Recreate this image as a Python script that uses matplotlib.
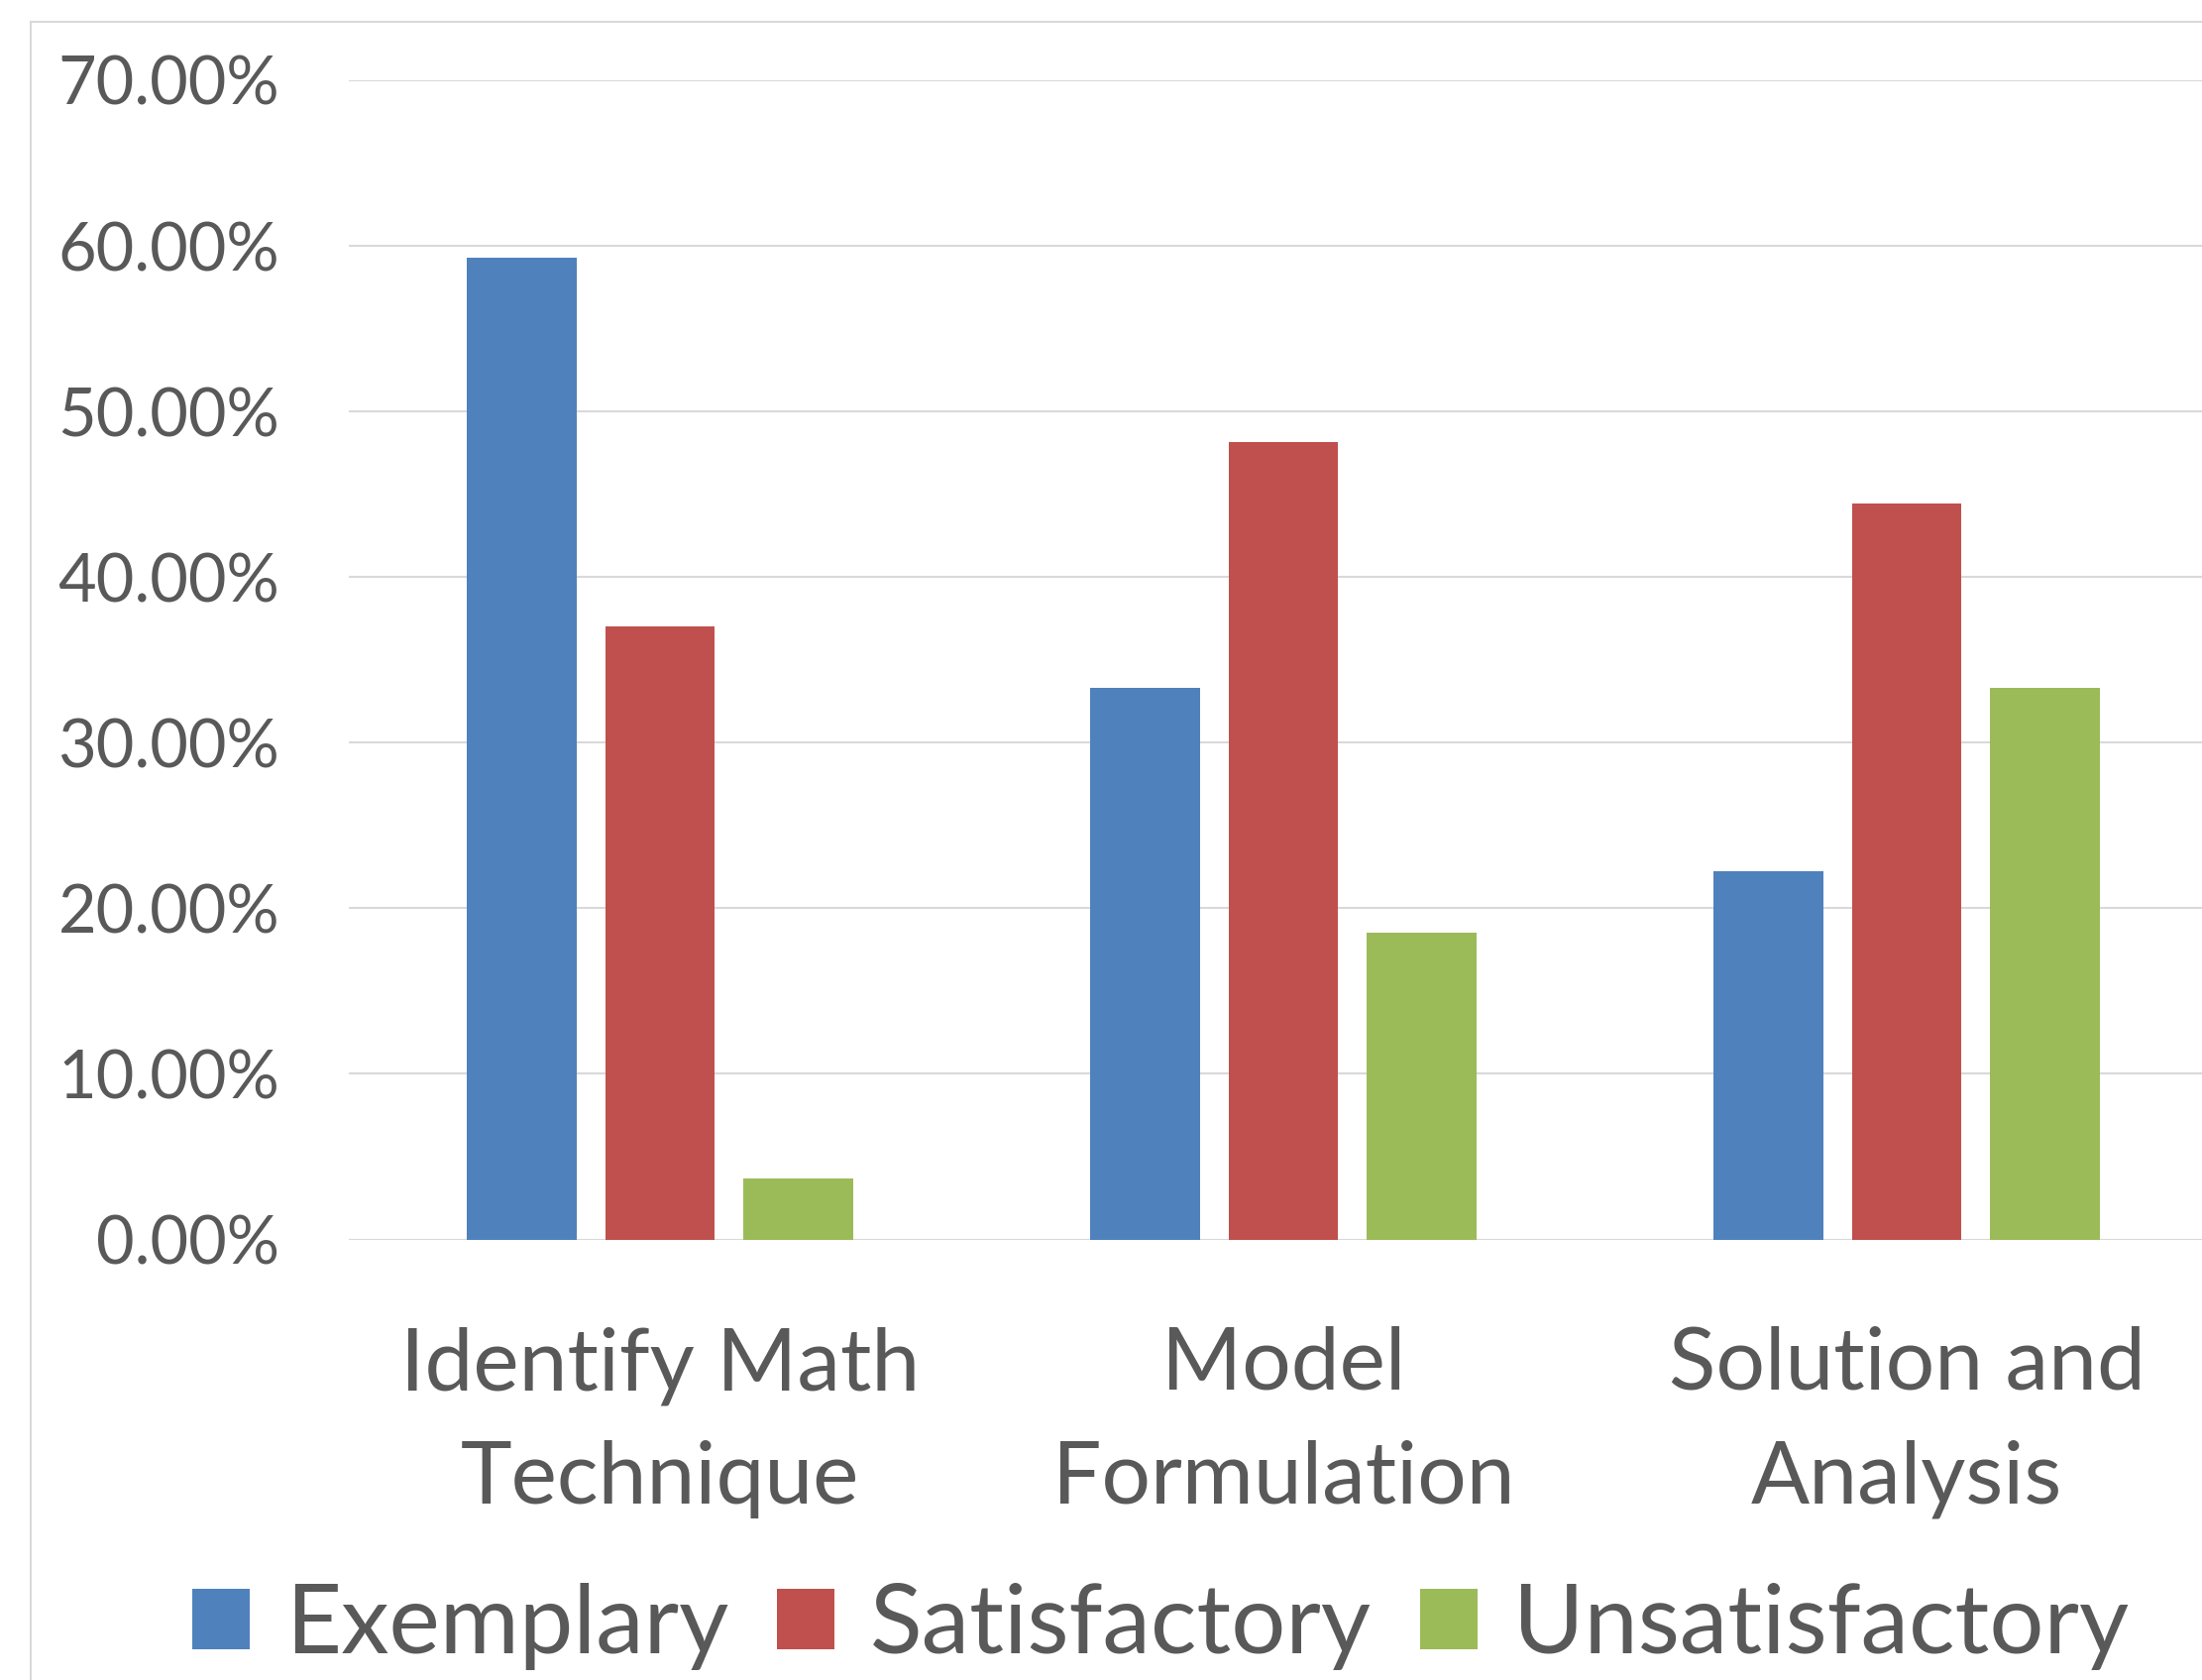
import numpy as np
import matplotlib.pyplot as plt
from matplotlib.lines import Line2D
from matplotlib.patches import Patch

# Data (percent of students per rubric level)
categories = ["Identify Math\nTechnique", "Model\nFormulation", "Solution and\nAnalysis"]
series_names = ["Exemplary", "Satisfactory", "Unsatisfactory"]
exemplary = [59.26, 33.33, 22.22]
satisfactory = [37.04, 48.15, 44.44]
unsatisfactory = [3.70, 18.52, 33.33]
y_ticks = [0, 10, 20, 30, 40, 50, 60, 70]

colors = ["#4F81BD", "#C0504D", "#9BBB59"]
text_color = "#595959"
grid_color = "#D9D9D9"

plt.rcParams['font.family'] = ['Lato', 'DejaVu Sans']

fig = plt.figure(figsize=(22.22, 16.95), dpi=100)
ax = fig.add_axes([351.5 / 2222, 1 - 1250.5 / 1695, 1887 / 2222, (1250.5 - 81) / 1695])

x = np.arange(len(categories))
width = 0.175
step = 0.2218
for i, (vals, name) in enumerate(zip([exemplary, satisfactory, unsatisfactory], series_names)):
    ax.bar(x + (i - 1) * step, vals, width, color=colors[i], label=name, zorder=3)

ax.set_xlim(-0.5, len(categories) - 0.5)
ax.set_ylim(0, 70)
ax.set_yticks(y_ticks)
ax.set_yticklabels([f"{v:.2f}%" for v in y_ticks])
ax.set_xticks(x)
ax.set_xticklabels(categories, linespacing=1.55)

ax.yaxis.grid(True, color=grid_color, linewidth=1.5, zorder=0)
ax.set_axisbelow(True)
for s in ax.spines.values():
    s.set_visible(False)
ax.tick_params(axis='y', length=0, pad=50, labelsize=48, labelcolor=text_color)
ax.tick_params(axis='x', length=0, pad=63, labelsize=63, labelcolor=text_color)

# chart area border (left and top edges visible)
bx, by = 31 / 2222, 1 - 22 / 1695
fig.add_artist(Line2D([bx, bx], [0, by], transform=fig.transFigure, color=grid_color, lw=1.5))
fig.add_artist(Line2D([bx, 1.0], [by, by], transform=fig.transFigure, color=grid_color, lw=1.5))

handles = [Patch(facecolor=c, edgecolor='none') for c in colors]
leg = fig.legend(handles, series_names, loc='center', bbox_to_anchor=(0.527, 0.032),
                 ncol=3, frameon=False, fontsize=70, handlelength=0.6, handleheight=0.6,
                 handletextpad=0.37, columnspacing=0.5, borderpad=0, borderaxespad=0)
for t in leg.get_texts():
    t.set_color(text_color)

plt.savefig("out.png", dpi=100)
